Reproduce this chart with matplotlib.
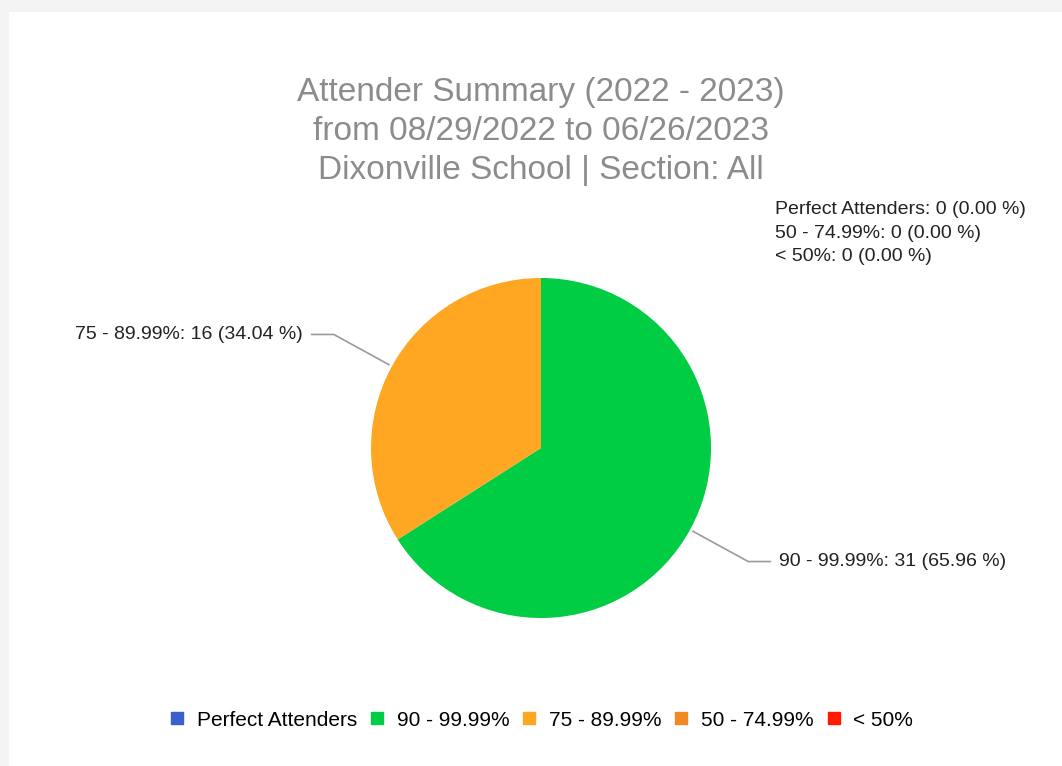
import numpy as np
import matplotlib.pyplot as plt
from matplotlib.lines import Line2D
from matplotlib.patches import Rectangle

plt.rcParams['font.family'] = ['Liberation Sans', 'DejaVu Sans']

# data
categories = ['Perfect Attenders', '90 - 99.99%', '75 - 89.99%', '50 - 74.99%', '< 50%']
counts = [0, 31, 16, 0, 0]
percents = [0.00, 65.96, 34.04, 0.00, 0.00]
colors = ['#3b5fcb', '#00cc44', '#ffa722', '#ef8a26', '#ff1a00']

title_lines = ['Attender Summary (2022 - 2023)',
               'from 08/29/2022 to 06/26/2023',
               'Dixonville School | Section: All']

W, H = 1062, 766
fig = plt.figure(figsize=(W / 100, H / 100), dpi=100)
fig.patch.set_facecolor('#f4f4f4')
fig.patches.append(Rectangle((9 / W, 0), 1, 1 - 12 / H, transform=fig.transFigure,
                             facecolor='white', edgecolor='none', zorder=-5))

# pie axes: center (541, 448) px, radius 170 px
cx, cy, r = 541, 448, 170
ax = fig.add_axes([(cx - r) / W, (H - cy - r) / H, 2 * r / W, 2 * r / H])
ax.set_zorder(2)
nz = [i for i, c in enumerate(counts) if c > 0]
wedges, _ = ax.pie([counts[i] for i in nz], colors=[colors[i] for i in nz],
                   startangle=90, counterclock=False, radius=1,
                   wedgeprops=dict(linewidth=0))
ax.set_xlim(-1, 1)
ax.set_ylim(-1, 1)
ax.set_aspect('equal')
ax.axis('off')

# leader lines and labels
for w, i in zip(wedges, nz):
    ang = np.deg2rad((w.theta1 + w.theta2) / 2)
    x0, y0 = np.cos(ang), np.sin(ang)
    x1, y1 = 1.39 * x0, 1.39 * y0
    sgn = 1 if x0 > 0 else -1
    x2 = x1 + sgn * 0.13
    ax.plot([1.02 * x0, x1, x2], [1.02 * y0, y1, y1], color='#9a9a9a', lw=1.2,
            clip_on=False)
    ax.text(x2 + sgn * 0.05, y1, f'{categories[i]}: {counts[i]} ({percents[i]:.2f} %)',
            ha='left' if sgn > 0 else 'right', va='center', fontsize=14,
            color='#222222')

# zero-count labels stacked at top right
zero_lines = [f'{categories[i]}: {counts[i]} ({percents[i]:.2f} %)'
              for i, c in enumerate(counts) if c == 0]
for k, line in enumerate(zero_lines):
    fig.text(775 / W, 1 - (210 + 23.5 * k) / H, line, ha='left', va='center',
             fontsize=14, color='#222222')

# title
for k, line in enumerate(title_lines):
    fig.text(541 / W, 1 - (92 + 39 * k) / H, line, ha='center', va='center',
             fontsize=24, color='#8c8c8c')

# legend
handles = [Line2D([], [], marker='s', linestyle='none', markersize=8.6,
                  markerfacecolor=c, markeredgecolor=c) for c in colors]
fig.legend(handles, categories, loc='center', bbox_to_anchor=(540 / W, 1 - 720 / H),
           ncol=5, frameon=False, fontsize=15, handletextpad=0.45,
           columnspacing=0.45, handlelength=1.0)

fig.savefig('out.png', dpi=100, facecolor=fig.get_facecolor())
